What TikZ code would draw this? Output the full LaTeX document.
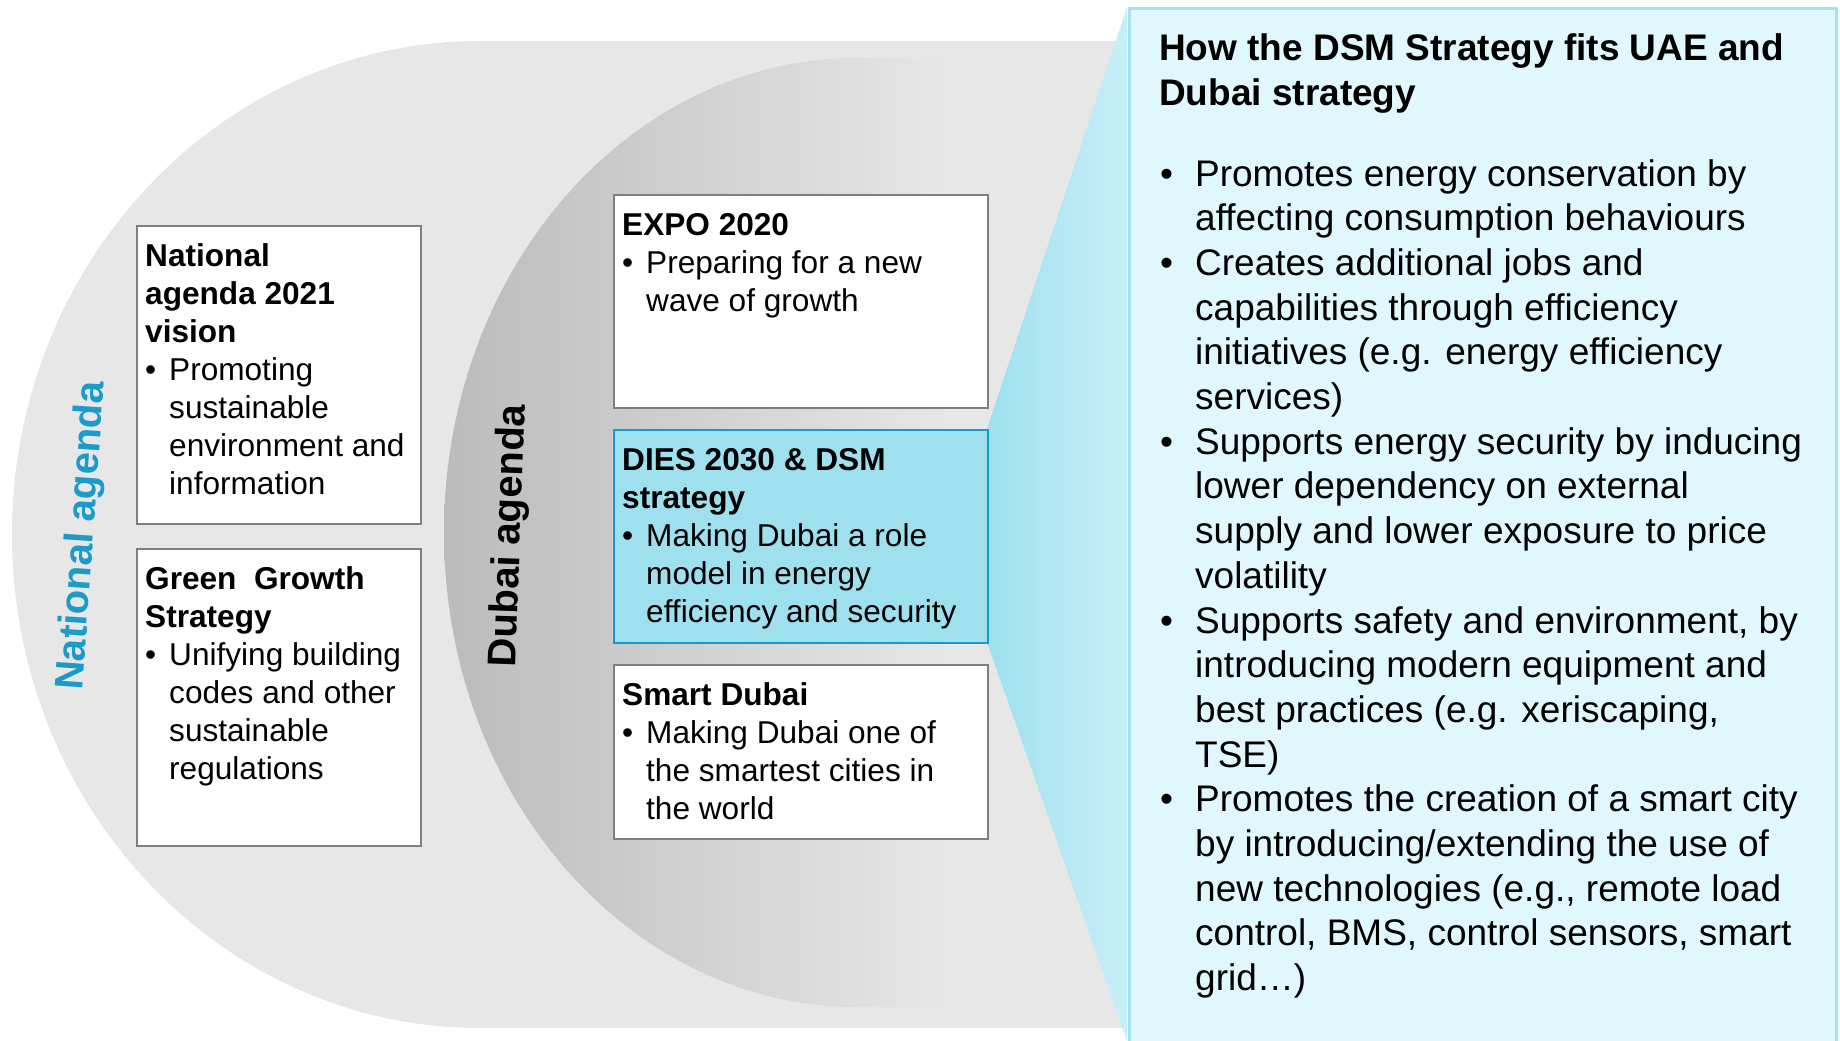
\documentclass[tikz,border=0pt]{standalone}
\usepackage{fontspec}
\setmainfont{Liberation Sans}

\definecolor{outergray}{HTML}{E7E7E7}
\definecolor{innerdark}{HTML}{BBBBBB}
\definecolor{innerlight}{HTML}{E7E7E7}
\definecolor{boxline}{HTML}{7F7F7F}
\definecolor{diesfill}{HTML}{9EE0EE}
\definecolor{diesline}{HTML}{1A9AC8}
\definecolor{fanlight}{HTML}{C8EFF8}
\definecolor{panelfill}{HTML}{E0F7FD}
\definecolor{panelline}{HTML}{A3E3F0}
\definecolor{natblue}{HTML}{1B9BC8}

\pgfdeclarehorizontalshading{dubaishade}{100bp}{color(0bp)=(innerdark); color(25bp)=(innerdark); color(62bp)=(innerlight); color(100bp)=(innerlight)}

\newcommand\boxfont{\fontsize{31.6}{38}\selectfont}
\newcommand\panelfont{\fontsize{37}{44.7}\selectfont}
\newcommand\sidefont{\fontsize{40}{48}\selectfont\bfseries}
\newcommand\bul[1][24pt]{\makebox[#1][l]{\textbullet}}
\newcommand\ind[1][24pt]{\hspace*{#1}}

\begin{document}
\begin{tikzpicture}[x=1pt,y=-1pt,
  infobox/.style={draw=boxline,line width=2pt,fill=white,anchor=north west,inner sep=0pt},
  boxtext/.style={anchor=base west,inner sep=0pt,font=\boxfont},
  sidelabel/.style={font=\sidefont,inner sep=0pt}]
\useasboundingbox (0,0) rectangle (1840,1041);
% the two agendas
\fill[outergray] (1127,41) -- (480,41) arc[start angle=270,end angle=90,x radius=468,y radius=493.5] -- (1127,1028) -- cycle;
\shade[shading=dubaishade] (1127,58) -- (857,58) arc[start angle=270,end angle=90,x radius=413,y radius=474.5] -- (1127,1007) -- cycle;
% fan from the DIES box to the panel
\shade[left color=diesfill,right color=fanlight] (1127,7) -- (987,429) -- (987,642) -- (1127,1041) -- cycle;
\node[draw=panelline,line width=3pt,fill=panelfill,anchor=north west,inner sep=0pt,minimum width=707pt,minimum height=1050pt] (panel) at (1128,7) {};

\node[sidelabel,text=natblue,rotate=86] (natlabel) at (83,536) {National agenda};
\node[sidelabel,rotate=88] (dubailabel) at (510,536) {Dubai agenda};

\node[infobox,minimum width=284pt,minimum height=298pt] (nat) at (136,225) {};
\node[infobox,minimum width=284pt,minimum height=297pt] (green) at (136,548) {};
\node[infobox,minimum width=374pt,minimum height=213pt] (expo) at (613,194) {};
\node[infobox,draw=diesline,fill=diesfill,minimum width=374pt,minimum height=213pt] (dies) at (613,429) {};
\node[infobox,minimum width=374pt,minimum height=174pt] (smart) at (613,664) {};

\node[boxtext] (nattext) at ([shift={(9,41)}]nat.north west) {\parbox[t]{300pt}{\raggedright
  \textbf{National}\\\textbf{agenda 2021}\\\textbf{vision}\\
  \bul Promoting\\\ind sustainable\\\ind environment and\\\ind information}};
\node[boxtext] (greentext) at ([shift={(9,41)}]green.north west) {\parbox[t]{300pt}{\raggedright
  \textbf{Green~ Growth}\\\textbf{Strategy}\\
  \bul Unifying building\\\ind codes and other\\\ind sustainable\\\ind regulations}};
\node[boxtext] (expotext) at ([shift={(9,41)}]expo.north west) {\parbox[t]{360pt}{\raggedright
  \textbf{EXPO 2020}\\
  \bul Preparing for a new\\\ind wave of growth}};
\node[boxtext] (diestext) at ([shift={(9,41)}]dies.north west) {\parbox[t]{360pt}{\raggedright
  \textbf{DIES 2030 \& DSM}\\\textbf{strategy}\\
  \bul Making Dubai a role\\\ind model in energy\\\ind efficiency and security}};
\node[boxtext] (smarttext) at ([shift={(9,41)}]smart.north west) {\parbox[t]{360pt}{\raggedright
  \textbf{Smart Dubai}\\
  \bul Making Dubai one of\\\ind the smartest cities in\\\ind the world}};

% panel text
\node[anchor=base west,inner sep=0pt,font=\panelfont\bfseries] (paneltitle) at (1159,61) {\parbox[t]{670pt}{\raggedright
  How the DSM Strategy fits UAE and\\Dubai strategy}};
\node[anchor=base west,inner sep=0pt,font=\panelfont] (panellist) at (1160,186) {\parbox[t]{670pt}{\raggedright
  \bul[35pt]Promotes energy conservation by\\
  \ind[35pt]affecting consumption behaviours\\
  \bul[35pt]Creates additional jobs and\\
  \ind[35pt]capabilities through efficiency\\
  \ind[35pt]initiatives (e.g. energy efficiency\\
  \ind[35pt]services)\\
  \bul[35pt]Supports energy security by inducing\\
  \ind[35pt]lower dependency on external\\
  \ind[35pt]supply and lower exposure to price\\
  \ind[35pt]volatility\\
  \bul[35pt]Supports safety and environment, by\\
  \ind[35pt]introducing modern equipment and\\
  \ind[35pt]best practices (e.g. xeriscaping,\\
  \ind[35pt]TSE)\\
  \bul[35pt]Promotes the creation of a smart city\\
  \ind[35pt]by introducing/extending the use of\\
  \ind[35pt]new technologies (e.g., remote load\\
  \ind[35pt]control, BMS, control sensors, smart\\
  \ind[35pt]grid…)}};
\end{tikzpicture}
\end{document}
